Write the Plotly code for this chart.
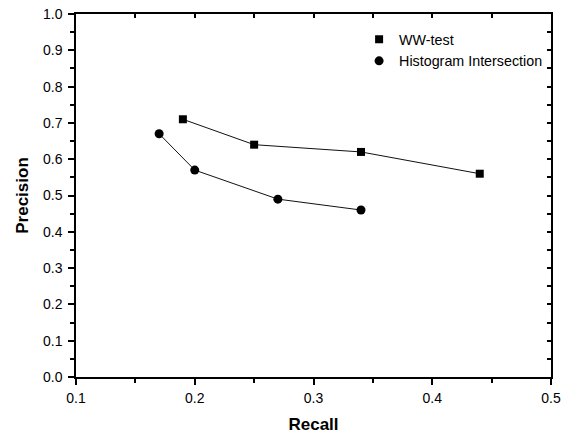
import plotly.graph_objects as go

# Data
ww_recall = [0.19, 0.25, 0.34, 0.44]
ww_precision = [0.71, 0.64, 0.62, 0.56]
hi_recall = [0.17, 0.20, 0.27, 0.34]
hi_precision = [0.67, 0.57, 0.49, 0.46]
series_names = ["WW-test", "Histogram Intersection"]

FONT = "Arial, 'Liberation Sans', sans-serif"

fig = go.Figure()
# connecting lines (not in legend)
fig.add_trace(go.Scatter(x=ww_recall, y=ww_precision, mode="lines",
                         line=dict(color="#111111", width=1), showlegend=False, hoverinfo="skip"))
fig.add_trace(go.Scatter(x=hi_recall, y=hi_precision, mode="lines",
                         line=dict(color="#111111", width=1), showlegend=False, hoverinfo="skip"))
# markers (legend entries)
fig.add_trace(go.Scatter(x=ww_recall, y=ww_precision, mode="markers", name=series_names[0],
                         marker=dict(symbol="square", size=8, color="black"), legendgroup="a"))
fig.add_trace(go.Scatter(x=hi_recall, y=hi_precision, mode="markers", name=series_names[1],
                         marker=dict(symbol="circle", size=9, color="black"), legendgroup="b"))
# invisible trace to anchor mirrored axes
fig.add_trace(go.Scatter(x=[0.1], y=[0.0], xaxis="x2", yaxis="y2", mode="markers",
                         marker=dict(opacity=0), showlegend=False, hoverinfo="skip"))

fig.update_layout(
    width=569, height=434,
    margin=dict(l=76, r=18, t=14, b=57),
    paper_bgcolor="white", plot_bgcolor="white",
    font=dict(family=FONT, size=14, color="black"),
    showlegend=True,
    legend=dict(x=0.596, y=0.974, xanchor="left", yanchor="top",
                bgcolor="rgba(0,0,0,0)", font=dict(size=14.3),
                tracegroupgap=0, traceorder="grouped"),
    xaxis=dict(range=[0.1, 0.5], dtick=0.1, tick0=0.1, tickformat=".1f", automargin=False,
               showgrid=False, zeroline=False, showline=True, linecolor="black", linewidth=1.5,
               ticks="outside", ticklen=6, tickwidth=1.5, tickcolor="black",
               minor=dict(ticks="outside", ticklen=4, dtick=0.05, tickcolor="black", tickwidth=1.5),
               ticklabelstandoff=1,
               title=dict(text="<b>Recall</b>", font=dict(size=17), standoff=24)),
    yaxis=dict(range=[0.0, 1.0], dtick=0.1, tickformat=".1f", automargin=False,
               showgrid=False, zeroline=False, showline=True, linecolor="black", linewidth=1.5,
               ticks="outside", ticklen=6, tickwidth=1.5, tickcolor="black",
               minor=dict(ticks="outside", ticklen=4, dtick=0.05, tickcolor="black", tickwidth=1.5),
               ticklabelstandoff=3,
               title=dict(text="<b>Precision</b>", font=dict(size=17), standoff=10)),
    xaxis2=dict(overlaying="x", side="top", range=[0.1, 0.5], dtick=0.05, tick0=0.1,
                showticklabels=False, showgrid=False, zeroline=False, automargin=False,
                showline=True, linecolor="black", linewidth=1.5,
                ticks="inside", ticklen=4, tickwidth=1.5, tickcolor="black"),
    yaxis2=dict(overlaying="y", side="right", anchor="x2", range=[0.0, 1.0], dtick=0.05,
                showticklabels=False, showgrid=False, zeroline=False, automargin=False,
                showline=True, linecolor="black", linewidth=1.5,
                ticks="inside", ticklen=4, tickwidth=1.5, tickcolor="black"),
)

fig.write_html("out.html")
